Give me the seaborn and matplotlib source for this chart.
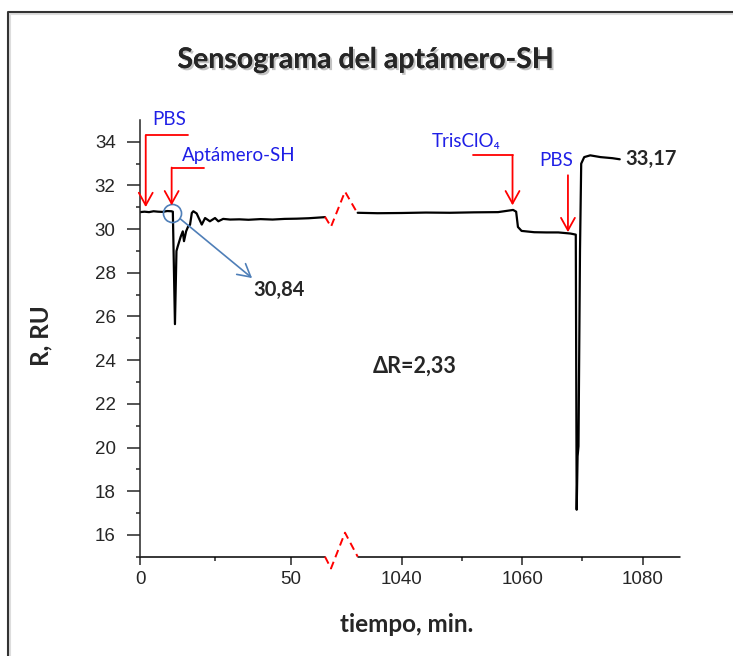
import numpy as np
import pandas as pd
import matplotlib
matplotlib.use('Agg')
import matplotlib.pyplot as plt
import matplotlib.patheffects as pe
from matplotlib.lines import Line2D
import seaborn as sns

# sensorgram, first block (0 - 61 min)
t1 = [0, 1.5, 3, 4.5, 6, 7.5, 9, 10.4, 10.9, 11.6, 12.1, 12.5, 13.5, 14.2, 14.6, 15.3,
      16.0, 16.6, 17.2, 17.7, 18.8, 20.5, 21.6, 23.2, 24.9, 26.0, 27.6, 29.9, 33, 36,
      40, 44, 48, 52, 56, 61.4]
r1 = [30.78, 30.80, 30.78, 30.82, 30.80, 30.79, 30.83, 30.82, 30.80, 25.65, 29.0, 29.2,
      29.65, 29.9, 29.45, 29.9, 30.13, 30.2, 30.74, 30.82, 30.72, 30.21, 30.51, 30.36,
      30.51, 30.36, 30.47, 30.44, 30.45, 30.43, 30.46, 30.44, 30.47, 30.48, 30.50, 30.55]

# second block (1032 - 1076 min)
t2 = [1032.7, 1036, 1040, 1044, 1048, 1052, 1056, 1058.5, 1059.0, 1059.3, 1059.9, 1062,
      1064, 1066, 1068, 1068.9, 1069.05, 1069.2, 1069.35, 1069.6, 1069.8, 1070.3, 1071.3,
      1073, 1075, 1076.2]
r2 = [30.75, 30.73, 30.74, 30.76, 30.75, 30.77, 30.78, 30.88, 30.80, 30.10, 29.92, 29.86,
      29.85, 29.85, 29.80, 29.75, 17.15, 19.6, 20.06, 29.0, 33.0, 33.3, 33.38, 33.30,
      33.25, 33.20]

x_major = [0, 50, 1040, 1060, 1080]
x_minor = [25, 1050, 1070]
brk_lo, brk_hi = 61.4, 1032.7

df = pd.concat([
    pd.DataFrame({'t': t1, 'R': r1, 'seg': 1}),
    pd.DataFrame({'t': t2, 'R': r2, 'seg': 2}),
])

# piecewise scale: 0-61.4 at 1x, gap squeezed, 1032.7+ at 2x
xp = [-1000, 0, brk_lo, brk_hi, 3000]
up = [-3013, 0, 185, 217.7, 217.7 + (3000 - brk_hi) * 6.025]

def fwd(x):
    return np.interp(x, xp, up)

def inv(u):
    return np.interp(u, up, xp)

sns.set_style('ticks')
plt.rcParams['font.family'] = ['Liberation Sans', 'DejaVu Sans']
cal = ['Lato', 'DejaVu Sans']

fig = plt.figure(figsize=(7.33, 6.56), dpi=100)
ax = fig.add_axes([0.191, 0.1514, 0.7367, 0.6657])

sns.lineplot(data=df, x='t', y='R', units='seg', estimator=None, sort=False,
             color='black', lw=1.6, ax=ax, legend=False)

ax.set_xscale('function', functions=(fwd, inv))
ax.set_xlim(0, 1086.2)
ax.set_ylim(15, 35)
ax.set_xticks(x_major)
ax.set_xticks(x_minor, minor=True)
ax.set_yticks(np.arange(16, 35, 2))
ax.set_yticks(np.arange(15, 35, 1), minor=True)
ax.tick_params(axis='y', which='major', length=9.5, width=1.1, labelsize=13.5, pad=8)
ax.tick_params(axis='y', which='minor', length=3, width=1.1)
ax.tick_params(axis='x', which='major', length=5.5, width=1.1, labelsize=13.5, pad=5)
ax.tick_params(axis='x', which='minor', length=3, width=1.1)
sns.despine(ax=ax, bottom=True)
ax.spines['left'].set_linewidth(1.1)

# broken bottom axis
xt = ax.get_xaxis_transform()
ax.plot([0, brk_lo], [0, 0], transform=xt, color='black', lw=1.1, clip_on=False)
ax.plot([brk_hi, 1086.2], [0, 0], transform=xt, color='black', lw=1.1, clip_on=False)
zx = inv(fwd(brk_lo) + np.array([0, 6, 20, 32.7]))
ax.plot(zx, [0, -0.027, 0.055, 0], transform=xt, color='red', lw=1.4,
        ls=(0, (4, 2.5)), clip_on=False)
ax.plot(zx, [30.57, 30.11, 31.72, 30.71], color='red', lw=1.4, ls=(0, (4, 2.5)))

ax.set_xlabel('tiempo, min.', fontsize=17.5, fontweight='bold', family=cal)
ax.set_ylabel('R, RU', fontsize=17.5, fontweight='bold', family=cal)
ax.xaxis.set_label_coords(0.493, -0.156)
ax.xaxis.label.set_va('center')
ax.yaxis.set_label_coords(-0.183, 0.507)
ax.yaxis.label.set_va('center')

# injection arrows
red_arrow = dict(arrowstyle='->, head_length=0.9, head_width=0.5', color='red', lw=1.3,
                 shrinkA=0, shrinkB=0)
arrows = [  # (x, y_top, y_tip, x_elbow_end, label, label_x, label_y)
    (1.9, 34.3, 31.01, 16.0, 'PBS', 9.8, 35.02),
    (10.5, 32.82, 31.09, 21.2, 'Aptámero-SH', 32.9, 33.37),
    (1058.4, 33.38, 31.09, 1051.9, 'TrisClO₄', 1050.7, 34.0),
    (1067.6, 32.47, 29.86, None, 'PBS', 1065.6, 33.14),
]
for x, ytop, ytip, xe, lab, lx, ly in arrows:
    ax.annotate('', xy=(x, ytip), xytext=(x, ytop), arrowprops=red_arrow,
                annotation_clip=False)
    if xe is not None:
        ax.plot([x, xe], [ytop, ytop], color='red', lw=1.3, clip_on=False)
    ax.text(lx, ly, lab, color='#1f1fe6', fontsize=13.5, ha='center', va='center',
            family=cal, clip_on=False)

# zoomed point marker and values
blue = '#4f7fb8'
ax.plot([10.7], [30.75], marker='o', ms=13, mfc='none', mec=blue, mew=1.2)
ax.annotate('', xy=(37.2, 27.76), xytext=(13.3, 30.48),
            arrowprops=dict(arrowstyle='->, head_length=0.9, head_width=0.5',
                            color=blue, lw=1.2, shrinkA=0, shrinkB=0))
ax.text(46.1, 27.2, '30,84', fontsize=14.5, fontweight='bold', ha='center', va='center',
        family=cal)
ax.text(1077.1, 33.23, '33,17', fontsize=14.5, fontweight='bold', ha='left', va='center',
        family=cal, clip_on=False)
ax.text(1042.2, 23.73, 'ΔR=2,33', fontsize=15.5, fontweight='bold', ha='center',
        va='center', family=cal)

fig.text(0.499, 0.9085, 'Sensograma del aptámero-SH', fontsize=20.5, fontweight='bold',
         ha='center', va='center', family=cal,
         path_effects=[pe.withSimplePatchShadow(offset=(1.5, -1.5), shadow_rgbFace='#888888',
                                                alpha=0.5), pe.Normal()])

# frame around the figure
for off, c in [(2, '#dddddd'), (0, '#333333')]:
    fig.add_artist(Line2D([0.011 + off / 733, 0.011 + off / 733, 1.0],
                          [0.0, 0.982 - off / 656, 0.982 - off / 656],
                          color=c, lw=1.5, transform=fig.transFigure))

fig.savefig('out.png', dpi=100)
